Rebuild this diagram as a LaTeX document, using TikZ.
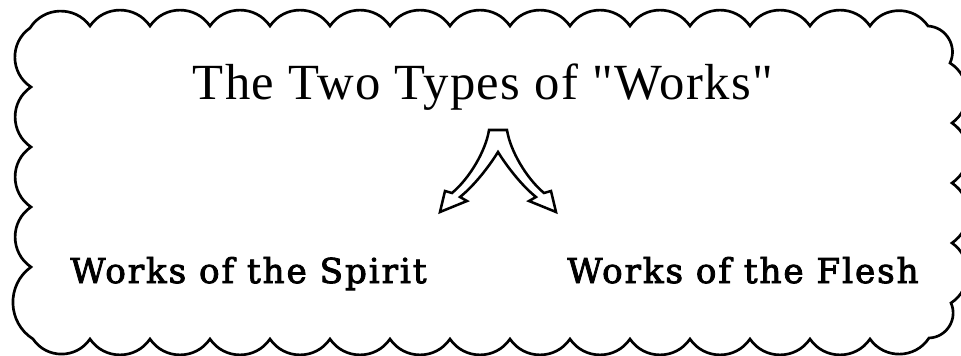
\documentclass[tikz,border=0pt]{standalone}
\usepackage{fontspec}
\setmainfont{Liberation Serif}
\newfontfamily\titlefont{Liberation Serif}[LetterSpace=2.8]
\newfontfamily\bodyfont{DejaVu Serif}[FakeBold=2.5,LetterSpace=5.5]
\newcommand\bump[4]{.. controls ({#1+0.238*((#3)-(#1))+0.353*((#4)-(#2))},{#2+0.238*((#4)-(#2))-0.353*((#3)-(#1))}) and ({#3-0.238*((#3)-(#1))+0.353*((#4)-(#2))},{#4-0.238*((#4)-(#2))-0.353*((#3)-(#1))}) .. (#3,#4)}
\begin{document}
\begin{tikzpicture}[x=0.75pt,y=-0.75pt,
  cloudline/.style={draw=black,line width=2pt,fill=white},
  forkarrow/.style={draw=black,line width=1.9pt,fill=white,line join=miter},
  titletext/.style={anchor=base,inner sep=0pt,font=\titlefont\fontsize{38}{42}\selectfont},
  branchtext/.style={anchor=base,inner sep=0pt,font=\bodyfont\fontsize{25.7}{30}\selectfont}]
\useasboundingbox[fill=white] (0,0) rectangle (961,356);
\draw[cloudline] (30,28) \bump{30}{28}{90}{26}
  \foreach \a in {90,150,...,810} {\bump{\a}{26}{\a+60}{26}}
  \bump{870}{26}{928}{26}
  \bump{928}{26}{950}{63}
  \bump{950}{63}{952}{123}
  \bump{952}{123}{952}{183}
  \bump{952}{183}{952}{243}
  \bump{952}{243}{951}{303}
  \bump{951}{303}{929}{338}
  \bump{929}{338}{870}{339}
  \foreach \a in {870,810,...,150} {\bump{\a}{339}{\a-60}{339}}
  \bump{90}{339}{33}{339}
  \bump{33}{339}{31}{267}
  \bump{31}{267}{31}{207}
  \bump{31}{207}{31}{147}
  \bump{31}{147}{31}{87}
  \bump{31}{87}{30}{28}
  -- cycle;
\node[titletext] (title) at (483,100) {The Two Types of "Works"};
\draw[forkarrow] (489,130) -- (507,130)
  .. controls (510,150) and (526,178) .. (544,193)
  -- (551,191) -- (556,212) -- (529,201) -- (536,197)
  .. controls (521,185) and (506,165) .. (498,152)
  .. controls (490,165) and (475,185) .. (460,197)
  -- (467,201) -- (440,212) -- (445,191) -- (452,193)
  .. controls (470,178) and (486,150) .. (489,130) -- cycle;
\node[branchtext] (spirit) at (248.5,283) {Works of the Spirit};
\node[branchtext] (flesh) at (743,283) {Works of the Flesh};
\end{tikzpicture}
\end{document}
